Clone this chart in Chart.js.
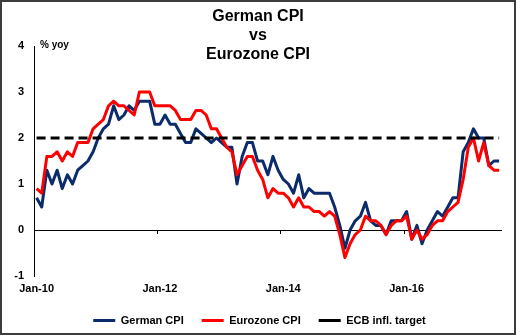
<!DOCTYPE html>
<html>
<head>
<meta charset="utf-8">
<script src="https://cdn.jsdelivr.net/npm/chart.js@4"></script>
<style>
  html, body { margin: 0; padding: 0; background: #fff; }
  #frame {
    position: absolute; left: 0; top: 0;
    width: 516px; height: 335px;
    box-sizing: border-box;
    border: 2px solid #3c3c3c;
    overflow: hidden;
  }
  canvas { display: block; }
</style>
</head>
<body>
<div id="frame"><canvas id="cpiChart" width="512" height="331"></canvas></div>
<script>
// Monthly yoy inflation, Jan-10 .. Jul-17 (index 0 = Jan-10)
const germanCPI = [
  0.7, 0.5, 1.3, 1.0, 1.3, 0.9, 1.2, 1.0, 1.3, 1.4, 1.5, 1.7,
  2.0, 2.2, 2.3, 2.7, 2.4, 2.5, 2.7, 2.6, 2.8, 2.8, 2.8, 2.3,
  2.3, 2.5, 2.3, 2.3, 2.1, 1.9, 1.9, 2.2, 2.1, 2.0, 1.9, 2.0,
  1.9, 1.8, 1.8, 1.0, 1.6, 1.9, 1.9, 1.5, 1.5, 1.2, 1.6, 1.3,
  1.1, 1.0, 0.8, 1.2, 0.7, 0.9, 0.8, 0.8, 0.8, 0.8, 0.5, 0.1,
  -0.4, 0.0, 0.2, 0.3, 0.6, 0.2, 0.1, 0.1, -0.1, 0.2, 0.2, 0.2,
  0.4, -0.2, 0.1, -0.3, 0.0, 0.2, 0.4, 0.3, 0.5, 0.7, 0.7, 1.7,
  1.9, 2.2, 2.0, 2.0, 1.4, 1.5, 1.5
];
const eurozoneCPI = [
  0.9, 0.8, 1.6, 1.6, 1.7, 1.5, 1.7, 1.6, 1.9, 1.9, 1.9, 2.2,
  2.3, 2.4, 2.7, 2.8, 2.7, 2.7, 2.6, 2.5, 3.0, 3.0, 3.0, 2.7,
  2.7, 2.7, 2.7, 2.6, 2.4, 2.4, 2.4, 2.6, 2.6, 2.5, 2.2, 2.2,
  2.0, 1.8, 1.7, 1.2, 1.4, 1.6, 1.6, 1.3, 1.1, 0.7, 0.9, 0.8,
  0.8, 0.7, 0.5, 0.7, 0.5, 0.5, 0.4, 0.4, 0.3, 0.4, 0.3, -0.1,
  -0.6, -0.3, -0.1, 0.0, 0.3, 0.2, 0.2, 0.1, -0.1, 0.1, 0.2, 0.2,
  0.3, -0.2, 0.0, -0.2, -0.1, 0.1, 0.2, 0.2, 0.4, 0.5, 0.6, 1.1,
  1.8, 2.0, 1.5, 1.9, 1.4, 1.3, 1.3
];
const ecbTarget = 2;
const tickMonths = [0, 24, 48, 72];
const tickLabels = ['Jan-10', 'Jan-12', 'Jan-14', 'Jan-16'];
const titleLines = ['German CPI', 'vs', 'Eurozone CPI'];
const unitLabel = '% yoy';

const FONT = "'Liberation Sans', Arial, sans-serif";
Chart.defaults.font.family = FONT;
Chart.defaults.color = '#000';

const lastMonth = germanCPI.length - 1;
const toPoints = arr => arr.map((v, i) => ({ x: i, y: v }));

// Title and unit label sit inside the plot region, so draw them after the chart
const textPlugin = {
  id: 'cpiText',
  afterLayout(chart) {
    // legend is centred on the whole page in the original, not on the plot
    const shift = 7.6;
    chart.legend.left += shift;
    chart.legend.right += shift;
  },
  afterDraw(chart) {
    const ctx = chart.ctx;
    ctx.save();
    ctx.fillStyle = '#000';
    ctx.textAlign = 'center';
    ctx.textBaseline = 'middle';
    ctx.font = 'bold 16px ' + FONT;
    titleLines.forEach((line, i) => ctx.fillText(line, 256, 15 + i * 19));
    ctx.textAlign = 'left';
    ctx.font = 'bold 10px ' + FONT;
    ctx.fillText(unitLabel, 38, 43);
    ctx.restore();
  }
};

new Chart(document.getElementById('cpiChart'), {
  type: 'line',
  data: {
    datasets: [
      {
        label: 'German CPI',
        data: toPoints(germanCPI),
        borderColor: '#0b2b6b',
        backgroundColor: '#0b2b6b',
        borderWidth: 3,
        order: 3,
        xAxisID: 'x'
      },
      {
        label: 'Eurozone CPI',
        data: toPoints(eurozoneCPI),
        borderColor: '#ff0000',
        backgroundColor: '#ff0000',
        borderWidth: 3,
        order: 2,
        xAxisID: 'x'
      },
      {
        label: 'ECB infl. target',
        data: [{ x: 0, y: ecbTarget }, { x: lastMonth, y: ecbTarget }],
        borderColor: '#000',
        backgroundColor: '#000',
        borderWidth: 3,
        borderDash: [9, 5],
        borderCapStyle: 'butt',
        order: 1,
        xAxisID: 'x'
      }
    ]
  },
  options: {
    responsive: false,
    animation: false,
    devicePixelRatio: 1,
    elements: {
      line: { tension: 0, borderJoinStyle: 'round', fill: false },
      point: { radius: 0, hoverRadius: 0 }
    },
    layout: { padding: { left: 0, top: 44, right: 12.3, bottom: -3 } },
    plugins: {
      title: { display: false },
      tooltip: { enabled: false },
      legend: {
        position: 'bottom',
        labels: {
          usePointStyle: true,
          pointStyle: 'line',
          pointStyleWidth: 22,
          padding: 18,
          color: '#000',
          font: { size: 11, weight: 'bold' },
          sort: (a, b) => a.datasetIndex - b.datasetIndex,
          generateLabels(chart) {
            const items = Chart.defaults.plugins.legend.labels.generateLabels(chart);
            items.forEach(it => {
              it.pointStyle = 'line';
              if (it.lineDash && it.lineDash.length) it.lineDash = [8, 8];
            });
            return items;
          }
        }
      }
    },
    scales: {
      x: {
        type: 'linear',
        min: -0.5,
        max: lastMonth + 0.5,
        afterBuildTicks: s => { s.ticks = tickMonths.map(v => ({ value: v })); },
        afterFit: s => { s.height = 21; },
        ticks: {
          autoSkip: false,
          maxRotation: 0,
          padding: 6,
          color: '#000',
          font: { size: 11, weight: 'bold' },
          callback: v => tickLabels[tickMonths.indexOf(v)]
        },
        grid: { display: false, drawTicks: false },
        border: { display: false }
      },
      // zero line with small tick marks between the month groups
      x2: {
        axis: 'x',
        type: 'linear',
        min: -0.5,
        max: lastMonth + 0.5,
        position: { y: 0 },
        afterBuildTicks: s => { s.ticks = tickMonths.map(v => ({ value: v - 0.5 })); },
        ticks: { display: false },
        grid: { drawOnChartArea: false, drawTicks: true, tickLength: 3, color: '#000', lineWidth: 1 },
        border: { display: true, color: '#000', width: 1 }
      },
      y: {
        min: -1,
        max: 4,
        afterFit: s => { s.width = 32; },
        ticks: {
          stepSize: 1,
          padding: 10,
          color: '#000',
          font: { size: 11, weight: 'bold' }
        },
        grid: { display: false, drawTicks: false },
        border: { display: true, color: '#000', width: 1 }
      }
    }
  },
  plugins: [textPlugin]
});
</script>
</body>
</html>
